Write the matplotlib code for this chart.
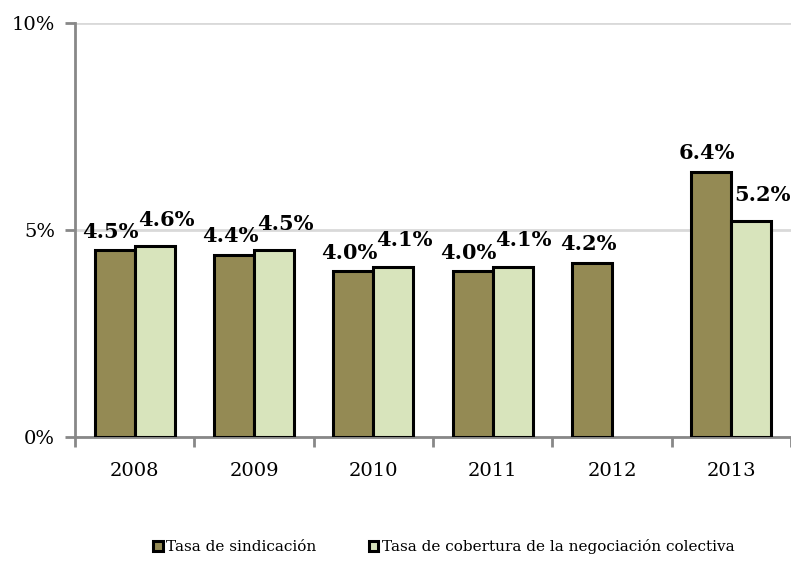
import numpy as np
import matplotlib
matplotlib.use("Agg")
import matplotlib.pyplot as plt
from matplotlib.ticker import FuncFormatter

years = ["2008", "2009", "2010", "2011", "2012", "2013"]
sindicacion = [4.5, 4.4, 4.0, 4.0, 4.2, 6.4]
cobertura = [4.6, 4.5, 4.1, 4.1, np.nan, 5.2]
names = ["Tasa de sindicación", "Tasa de cobertura de la negociación colectiva"]
c_olive = "#948A54"
c_light = "#D8E4BC"
gray = "#888888"

plt.rcParams["font.family"] = ["DejaVu Serif"]

fig = plt.figure(figsize=(7.91, 5.65), dpi=100)
ax = fig.add_axes([0.095, 0.227, 0.905, 0.733])

x = np.arange(len(years))
w = 0.335
b1 = ax.bar(x - w/2, sindicacion, w, color=c_olive, edgecolor="black", linewidth=2.2, label=names[0], zorder=3)
b2 = ax.bar(x + w/2, cobertura, w, color=c_light, edgecolor="black", linewidth=2.2, label=names[1], zorder=3)

# label offsets (points) roughly as in the source chart
for bars, vals, off in ((b1, sindicacion, (-3, 6)), (b2, cobertura, (8, 12))):
    for r, v in zip(bars, vals):
        if np.isnan(v):
            continue
        ax.annotate(f"{v:.1f}%", (r.get_x() + r.get_width()/2, v), xytext=off,
                    textcoords="offset points", ha="center", va="bottom",
                    fontsize=15, fontweight="bold", zorder=4, annotation_clip=False)

ax.set_ylim(0, 10)
ax.set_xlim(-0.5, 5.5)
ax.set_yticks([0, 5, 10])
ax.yaxis.set_major_formatter(FuncFormatter(lambda v, p: f"{v:.0f}%"))
ax.set_xticks(x)
ax.set_xticklabels(years)
ax.set_xticks(np.arange(-0.5, 6, 1), minor=True)
ax.tick_params(axis="x", which="major", length=0, labelsize=14, pad=18)
ax.tick_params(axis="x", which="minor", length=7, width=2, color=gray)
ax.tick_params(axis="y", length=7, width=2, color=gray, labelsize=14, pad=7.5)
ax.grid(axis="y", color="#D9D9D9", linewidth=2, zorder=0)
for s in ("top", "right"):
    ax.spines[s].set_visible(False)
for s in ("left", "bottom"):
    ax.spines[s].set_color(gray)
    ax.spines[s].set_linewidth(2)

fig.legend(handles=[b1, b2], loc="center", bbox_to_anchor=(0.561, 0.032), ncol=2,
           frameon=False, fontsize=11, handlelength=0.65, handleheight=0.65,
           handletextpad=0.2, columnspacing=3.4)

fig.savefig("out.png", dpi=100)
